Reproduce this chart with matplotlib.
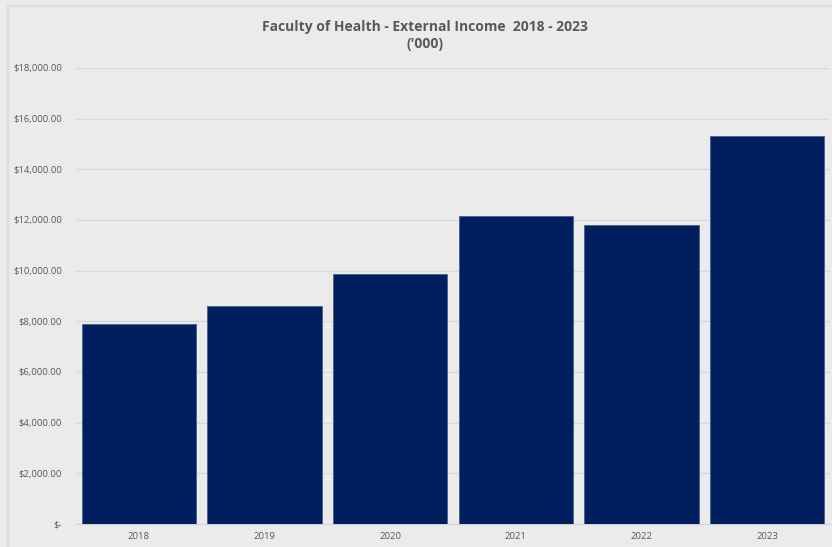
import matplotlib
matplotlib.use("Agg")
import matplotlib.pyplot as plt
from matplotlib.patches import Rectangle
from matplotlib.ticker import FuncFormatter

# external income per year, in thousands of dollars
years = ["2018", "2019", "2020", "2021", "2022", "2023"]
income = [7900, 8620, 9850, 12150, 11800, 15300]

bg = "#ebebeb"
navy = "#001f5f"
txt = "#595959"

plt.rcParams['font.family'] = ['Open Sans', 'DejaVu Sans']

fig = plt.figure(figsize=(8.32, 5.47), dpi=100)
fig.patch.set_facecolor(bg)

# chart frame
fig.patches.append(Rectangle((8 / 832, -0.1), 1.0, 1 - 6 / 547 + 0.1,
                             transform=fig.transFigure, fill=False,
                             edgecolor="#dcdcdc", linewidth=1.5))

ax = fig.add_axes([76 / 832, 1 - 524 / 547, (830 - 76) / 832, (524 - 68) / 547])
ax.set_facecolor(bg)

x = range(len(years))
ax.bar(x, income, width=0.91, color=navy, edgecolor="#4a5f8a", linewidth=0.6, zorder=3)

ax.set_xlim(-0.5, len(years) - 0.5)
ax.set_ylim(0, 18000)
ax.set_yticks(range(0, 18001, 2000))
ax.yaxis.set_major_formatter(FuncFormatter(lambda v, p: "$-" if v == 0 else f"${v:,.2f}"))
ax.set_xticks(list(x))
ax.set_xticklabels(years)

ax.grid(axis="y", color="#d9d9d9", linewidth=1, zorder=0)
for s in ["top", "right", "left"]:
    ax.spines[s].set_visible(False)
ax.spines["bottom"].set_color("#d0d0d0")
ax.tick_params(axis="both", length=0, labelsize=6.8, labelcolor=txt)
ax.tick_params(axis="y", pad=10)
ax.tick_params(axis="x", pad=6)

fig.text(0.511, 0.935, "Faculty of Health - External Income  2018 - 2023\n('000)",
         ha="center", va="center", fontsize=10, fontweight="bold", color=txt,
         linespacing=1.35)

fig.savefig("out.png", dpi=100, facecolor=bg)
